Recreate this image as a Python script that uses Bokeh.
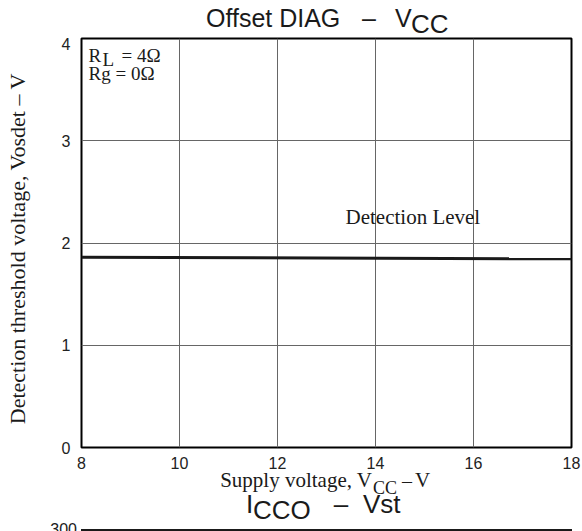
from bokeh.plotting import figure
from bokeh.models import Label, FixedTicker, Div
from bokeh.layouts import column
from bokeh.embed import file_html
from bokeh.resources import INLINE

# data
vcc = [8, 18]
vosdet = [1.86, 1.845]
x_ticks = [8, 10, 12, 14, 16, 18]
y_ticks = [0, 1, 2, 3, 4]
next_chart_top_tick = "300"

SANS = "Liberation Sans"
SERIF = "Liberation Serif"
INK = "#1a1a1a"
W = 582
FL, FR, FT, FB = 81, 571, 38, 447     # plot frame in page pixels
BT = 473                              # top of the bottom strip

# baseline offset (line-height = font size) for each font
K = {SANS: 0.8465, SERIF: 0.8375}


def span(text, px, py, size, font, top_page, align="left"):
    top = py - top_page - K[font] * size
    shift = {"left": "0", "center": "-50%", "right": "-100%"}[align]
    return (f'<span style="position:absolute;left:{px}px;top:{top:.2f}px;'
            f'transform:translateX({shift});font-family:\'{font}\';'
            f'font-size:{size}px;line-height:{size}px;white-space:nowrap;'
            f'color:{INK};">{text}</span>')


def strip(height, top_page, items, extra=""):
    html = "".join(span(t, x, y, s, f, top_page, a) for (t, x, y, s, f, a) in items)
    html = (f'<div style="position:relative;width:{W}px;height:{height}px;'
            f'overflow:visible;">{html}{extra}</div>')
    return Div(text=html, width=W, height=height, margin=0,
               styles={"overflow": "visible"})


# ---- top title (page y 0..37)
top = strip(37, 0, [
    ("Offset DIAG", 206, 27, 25, SANS, "left"),
    ("\u2013", 369, 27, 25, SANS, "center"),
    ("V", 395, 27, 25, SANS, "left"),
    ("CC", 411, 33, 26, SANS, "left"),
])

# ---- main chart (page y 37..BT)
p = figure(width=W, height=BT - 37, x_range=(8, 18), y_range=(0, 4),
           output_backend="svg", toolbar_location=None,
           min_border_left=FL, min_border_right=W - FR,
           min_border_top=FT - 37, min_border_bottom=BT - FB, margin=0)

p.outline_line_color = "black"
p.outline_line_width = 2
p.outline_line_alpha = 1

for ax in (p.xaxis[0], p.yaxis[0]):
    ax.axis_line_color = None
    ax.major_tick_line_color = None
    ax.minor_tick_line_color = None
    ax.major_label_text_font = SANS
    ax.major_label_text_font_size = "16px"
    ax.major_label_text_color = "#222222"

p.xaxis.ticker = FixedTicker(ticks=x_ticks)
p.yaxis.ticker = FixedTicker(ticks=y_ticks)
p.xaxis.major_label_standoff = 3
p.yaxis.major_label_standoff = 5

p.yaxis.axis_label = "Detection threshold voltage, Vosdet  \u2013  V"
p.yaxis.axis_label_text_font = SERIF
p.yaxis.axis_label_text_font_style = "normal"
p.yaxis.axis_label_text_font_size = "22px"
p.yaxis.axis_label_text_color = INK
p.yaxis.axis_label_standoff = 29

p.xgrid.ticker = FixedTicker(ticks=x_ticks)
p.ygrid.ticker = FixedTicker(ticks=y_ticks)
for g in (p.xgrid[0], p.ygrid[0]):
    g.grid_line_color = "#666666"
    g.grid_line_width = 1
    g.grid_line_alpha = 1

p.line(vcc, vosdet, line_color=INK, line_width=3)


def lab(text, px, py, size, font, align="left"):
    p.add_layout(Label(x=px - FL, y=FB - py, x_units="screen", y_units="screen",
                       text=text, text_font=font, text_font_size=f"{size}px",
                       text_align=align, text_baseline="alphabetic",
                       text_color=INK))


lab("R", 88, 55, 19, SERIF)
lab("L", 102, 59, 19, SERIF)
lab("= 4\u03a9", 121, 55, 19, SERIF)
lab("Rg = 0\u03a9", 88, 73, 19, SERIF)
lab("Detection Level", 345, 216, 21, SERIF)

# ---- bottom strip (page y BT..531): x label, next chart title and its top edge
SH = 531 - BT
clip_top = 522 - BT
next_chart = (f'<div style="position:absolute;left:0;top:{clip_top}px;width:{W}px;'
              f'height:{SH - clip_top}px;overflow:hidden;">'
              f'<div style="position:absolute;left:{FL}px;top:{529 - 522}px;'
              f'width:{FR - FL + 1}px;height:2px;background:{INK};"></div>'
              + span(next_chart_top_tick, 77, 536, 16, SANS, 522, "right") +
              '</div>')
bot = strip(SH, BT, [
    ("Supply voltage, V", 372, 488, 21, SERIF, "right"),
    ("CC", 373, 494, 18, SERIF, "left"),
    ("\u2013", 407, 488, 20, SERIF, "center"),
    ("V", 415, 488, 21, SERIF, "left"),
    ("I", 246, 513, 26, SANS, "left"),
    ("CCO", 253, 519, 26, SANS, "left"),
    ("\u2013", 341, 513, 26, SANS, "center"),
    ("Vst", 363, 513, 26, SANS, "left"),
], extra=next_chart)

layout = column(top, p, bot, spacing=0)
open("out.html", "w").write(file_html(layout, INLINE))
